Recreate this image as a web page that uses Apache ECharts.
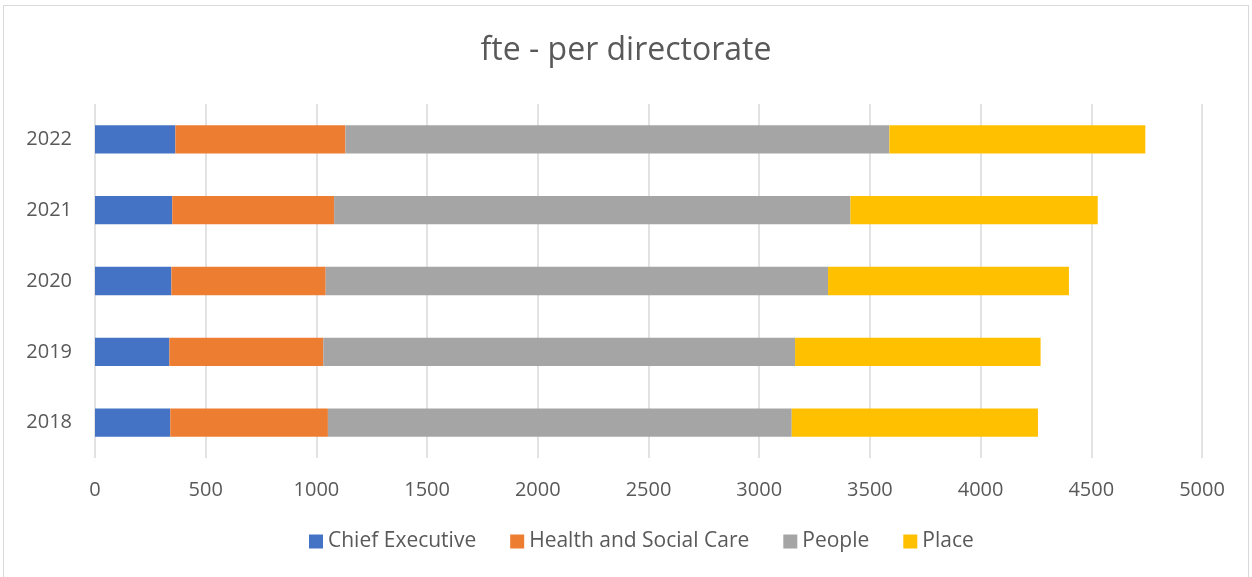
<!DOCTYPE html>
<html lang="en">
<head>
    <meta charset="UTF-8">
    <title>fte - per directorate</title>
    <script src="https://cdn.jsdelivr.net/npm/echarts@6/dist/echarts.min.js"></script>
    <style>
        html, body { margin: 0; padding: 0; background: #fff; }
        #chart {
            position: absolute; left: 0; top: 0;
            width: 1252px; height: 577px;
        }
        .frame {
            position: absolute; left: 3px; top: 5px; width: 1246px; height: 580px;
            border: 1px solid #d9d9d9; box-sizing: border-box; pointer-events: none;
        }
    </style>
</head>
<body>
<div id="chart"></div>
<div class="frame"></div>
<script type="text/javascript">
    var years = ['2018', '2019', '2020', '2021', '2022'];
    var chiefExecutive = [340, 336, 345, 349, 363];
    var healthSocialCare = [712, 695, 697, 731, 768];
    var people = [2095, 2131, 2269, 2332, 2457];
    var place = [1112, 1109, 1088, 1117, 1156];
    var xTicks = [0, 500, 1000, 1500, 2000, 2500, 3000, 3500, 4000, 4500, 5000];

    var font = 'Open Sans';
    var textColor = '#595959';

    function bar(name, data, color) {
        return {
            name: name,
            type: 'bar',
            stack: 'total',
            barWidth: '40%',
            itemStyle: { color: color },
            data: data
        };
    }

    var chart = echarts.init(document.getElementById('chart'));
    chart.setOption({
        animation: false,
        title: {
            text: 'fte - per directorate',
            left: 'center',
            top: 30,
            textStyle: { fontFamily: font, fontSize: 32, fontWeight: 'normal', color: textColor }
        },
        legend: {
            bottom: 20,
            left: 304,
            icon: 'rect',
            itemWidth: 14,
            itemHeight: 14,
            itemGap: 34,
            textStyle: { fontFamily: font, fontSize: 21, color: textColor },
            data: ['Chief Executive', 'Health and Social Care', 'People', 'Place']
        },
        grid: { left: 95, right: 50, top: 104, bottom: 119 },
        xAxis: {
            type: 'value',
            min: xTicks[0],
            max: xTicks[xTicks.length - 1],
            interval: 500,
            axisLine: { show: false },
            axisTick: { show: false },
            axisLabel: {
                fontFamily: font, fontSize: 20, color: textColor, margin: 22,
                formatter: function (v) { return String(v); }
            },
            splitLine: { lineStyle: { color: '#d9d9d9', width: 1.5 } }
        },
        yAxis: {
            type: 'category',
            data: years,
            axisLine: { show: false },
            axisTick: { show: false },
            axisLabel: { fontFamily: font, fontSize: 20, color: textColor, margin: 23 }
        },
        series: [
            bar('Chief Executive', chiefExecutive, '#4472c4'),
            bar('Health and Social Care', healthSocialCare, '#ed7d31'),
            bar('People', people, '#a5a5a5'),
            bar('Place', place, '#ffc000')
        ]
    });
</script>
</body>
</html>
